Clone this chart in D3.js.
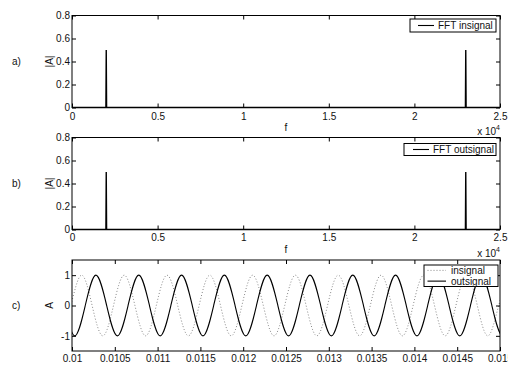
<!DOCTYPE html>
<html>
<head>
<meta charset="utf-8">
<script src="https://cdn.jsdelivr.net/npm/d3@7"></script>
<style>
  html, body { margin: 0; padding: 0; background: #fff; }
  svg { display: block; }
  text { font-family: "Liberation Sans", Arial, Helvetica, sans-serif; font-size: 10px; fill: #111; }
</style>
</head>
<body>
<svg id="chart" width="508" height="365"></svg>
<script>
// ---- spectrum data (Hz, magnitude) ----
const fftFreq      = [0, 1980, 2000, 2020, 22980, 23000, 23020, 25000];
const fftInMag     = [0, 0, 0.5, 0, 0, 0.5, 0, 0];
const fftOutMag    = [0, 0, 0.5, 0, 0, 0.5, 0, 0];
const fftTicks     = [0, 5000, 10000, 15000, 20000, 25000];
const fftTickLabels = ["0", "0.5", "1", "1.5", "2", "2.5"];
const magTicks     = [0, 0.2, 0.4, 0.6, 0.8];
const magTickLabels = ["0", "0.2", "0.4", "0.6", "0.8"];

// ---- time signals: extrema and zero crossings (s, amplitude) ----
const inTime = [0.00986, 0.009985, 0.01011, 0.010235, 0.01036, 0.010485, 0.01061, 0.010735,
  0.01086, 0.010985, 0.01111, 0.011235, 0.01136, 0.011485, 0.01161, 0.011735, 0.01186, 0.011985,
  0.01211, 0.012235, 0.01236, 0.012485, 0.01261, 0.012735, 0.01286, 0.012985, 0.01311, 0.013235,
  0.01336, 0.013485, 0.01361, 0.013735, 0.01386, 0.013985, 0.01411, 0.014235, 0.01436, 0.014485,
  0.01461, 0.014735, 0.01486, 0.014985, 0.01511];
const inAmp = [-1, 0, 1, 0, -1, 0, 1, 0, -1, 0, 1, 0, -1, 0, 1, 0, -1, 0, 1, 0, -1, 0,
  1, 0, -1, 0, 1, 0, -1, 0, 1, 0, -1, 0, 1, 0, -1, 0, 1, 0, -1, 0, 1];
const outTime = [0.00978, 0.009905, 0.01003, 0.010155, 0.01028, 0.010405, 0.01053, 0.010655,
  0.01078, 0.010905, 0.01103, 0.011155, 0.01128, 0.011405, 0.01153, 0.011655, 0.01178, 0.011905,
  0.01203, 0.012155, 0.01228, 0.012405, 0.01253, 0.012655, 0.01278, 0.012905, 0.01303, 0.013155,
  0.01328, 0.013405, 0.01353, 0.013655, 0.01378, 0.013905, 0.01403, 0.014155, 0.01428, 0.014405,
  0.01453, 0.014655, 0.01478, 0.014905, 0.01503, 0.015155];
const outAmp = [1, 0, -1, 0, 1, 0, -1, 0, 1, 0, -1, 0, 1, 0, -1, 0, 1, 0, -1, 0, 1, 0,
  -1, 0, 1, 0, -1, 0, 1, 0, -1, 0, 1, 0, -1, 0, 1, 0, -1, 0, 1, 0, -1, 0];
const timeTicks = [0.01, 0.0105, 0.011, 0.0115, 0.012, 0.0125, 0.013, 0.0135, 0.014, 0.0145, 0.015];
const timeTickLabels = ["0.01", "0.0105", "0.011", "0.0115", "0.012", "0.0125", "0.013",
  "0.0135", "0.014", "0.0145", "0.015"];
const ampTicks = [-1, 0, 1];
const ampTickLabels = ["-1", "0", "1"];

const svg = d3.select("#chart");
const X0 = 72, X1 = 500;

function zip(a, b) { return a.map((v, i) => [v, b[i]]); }

// Boxed axes with inward ticks on all four sides
function frame(g, x, y, xt, xl, yt, yl, pad) {
  const [top, bottom] = [y.range()[1], y.range()[0]];
  g.append("g").attr("transform", `translate(0,${bottom})`)
    .call(d3.axisBottom(x).tickValues(xt).tickFormat((d, i) => xl[i])
      .tickSize(-4).tickSizeOuter(0).tickPadding(pad))
    .call(s => s.select(".domain").remove());
  g.append("g").attr("transform", `translate(0,${top})`)
    .call(d3.axisTop(x).tickValues(xt).tickFormat("").tickSize(-4).tickSizeOuter(0))
    .call(s => s.select(".domain").remove());
  g.append("g").attr("transform", `translate(${X0},0)`)
    .call(d3.axisLeft(y).tickValues(yt).tickFormat((d, i) => yl[i])
      .tickSize(-4).tickSizeOuter(0).tickPadding(2))
    .call(s => s.select(".domain").remove());
  g.append("g").attr("transform", `translate(${X1},0)`)
    .call(d3.axisRight(y).tickValues(yt).tickFormat("").tickSize(-4).tickSizeOuter(0))
    .call(s => s.select(".domain").remove());
  g.selectAll(".tick line").attr("stroke", "#000");
  g.selectAll(".tick text").attr("fill", "#111")
    .style("font-family", '"Liberation Sans", Arial, sans-serif').style("font-size", "10px");
  g.append("rect").attr("x", X0).attr("y", top).attr("width", X1 - X0).attr("height", bottom - top)
    .attr("fill", "none").attr("stroke", "#000").attr("stroke-width", 1);
}

function sideLabels(g, letter, ylab, top, bottom) {
  const cy = (top + bottom) / 2;
  g.append("text").attr("x", 12).attr("y", cy).attr("dy", "0.35em").text(letter);
  g.append("text").attr("transform", `translate(53,${cy}) rotate(-90)`)
    .attr("text-anchor", "middle").text(ylab);
}

function fLabel(g, bottom) {
  g.append("text").attr("x", (X0 + X1) / 2).attr("y", bottom + 23)
    .attr("text-anchor", "middle").text("f");
  const t = g.append("text").attr("x", X1).attr("y", bottom + 27.5).attr("text-anchor", "end");
  t.append("tspan").text("x 10");
  t.append("tspan").attr("dy", -5).style("font-size", "7px").text("4");
}

function legend(g, x, y, w, h, items) {
  g.append("rect").attr("x", x).attr("y", y).attr("width", w).attr("height", h)
    .attr("fill", "#fff").attr("stroke", "#000").attr("stroke-width", 1);
  const step = h / items.length;
  items.forEach((it, i) => {
    const cy = y + step * (i + 0.5);
    g.append("line").attr("x1", x + it.lx0).attr("x2", x + it.lx1).attr("y1", cy).attr("y2", cy)
      .attr("stroke", it.color).attr("stroke-width", it.width)
      .attr("stroke-dasharray", it.dash || null);
    g.append("text").attr("x", x + it.tx).attr("y", cy).attr("dy", "0.35em").text(it.label);
  });
}

// ---- spectrum panels ----
const fx = d3.scaleLinear().domain([0, 25000]).range([X0, X1]);
const spectra = [
  { top: 15.5, bottom: 107.5, mag: fftInMag, letter: "a)", pad: 5,
    leg: { x: 410, y: 19, w: 86, h: 13, label: "FFT insignal", lx0: 8, lx1: 24, tx: 28 } },
  { top: 137.5, bottom: 229.5, mag: fftOutMag, letter: "b)", pad: 4,
    leg: { x: 404, y: 143.5, w: 92, h: 12, label: "FFT outsignal", lx0: 9, lx1: 25, tx: 29 } }
];
spectra.forEach(p => {
  const g = svg.append("g");
  const y = d3.scaleLinear().domain([0, 0.8]).range([p.bottom, p.top]);
  g.append("path").datum(zip(fftFreq, p.mag))
    .attr("d", d3.line().x(d => fx(d[0])).y(d => y(d[1])))
    .attr("fill", "none").attr("stroke", "#000").attr("stroke-width", 1.4);
  frame(g, fx, y, fftTicks, fftTickLabels, magTicks, magTickLabels, p.pad);
  sideLabels(g, p.letter, "|A|", p.top, p.bottom);
  fLabel(g, p.bottom);
  legend(g, p.leg.x, p.leg.y, p.leg.w, p.leg.h,
    [{ label: p.leg.label, color: "#000", width: 1.1, lx0: p.leg.lx0, lx1: p.leg.lx1, tx: p.leg.tx }]);
});

// ---- time-domain panel ----
{
  const top = 260, bottom = 351;
  const g = svg.append("g");
  const tx = d3.scaleLinear().domain([0.01, 0.015]).range([X0, X1]);
  const y = d3.scaleLinear().domain([-1.5, 1.5]).range([bottom, top]);
  svg.append("defs").append("clipPath").attr("id", "plotC")
    .append("rect").attr("x", X0).attr("y", top).attr("width", X1 - X0).attr("height", bottom - top);
  const line = d3.line().x(d => tx(d[0])).y(d => y(d[1])).curve(d3.curveNatural);
  const lines = g.append("g").attr("clip-path", "url(#plotC)");
  lines.append("path").datum(zip(inTime, inAmp)).attr("d", line)
    .attr("fill", "none").attr("stroke", "#8a8a8a").attr("stroke-width", 1)
    .attr("stroke-dasharray", "1,2");
  lines.append("path").datum(zip(outTime, outAmp)).attr("d", line)
    .attr("fill", "none").attr("stroke", "#000").attr("stroke-width", 1.1);
  frame(g, tx, y, timeTicks, timeTickLabels, ampTicks, ampTickLabels, 4);
  sideLabels(g, "c)", "A", top, bottom);
  legend(g, 424, 265, 74, 21.5, [
    { label: "insignal", color: "#8a8a8a", width: 1, dash: "1,2", lx0: 3.5, lx1: 22, tx: 27 },
    { label: "outsignal", color: "#000", width: 1.1, lx0: 3.5, lx1: 22, tx: 27 }
  ]);
}
</script>
</body>
</html>
